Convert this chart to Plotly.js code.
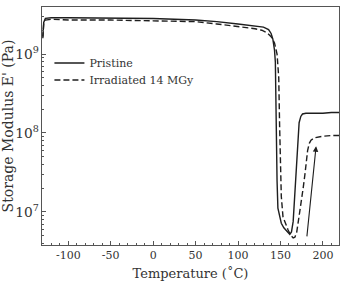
<!DOCTYPE html>
<html>
<head>
<meta charset="utf-8">
<script src="https://cdn.plot.ly/plotly-3.0.1.min.js"></script>
<style>
  html, body { margin: 0; padding: 0; background: #fff; }
  #chart { width: 343px; height: 283px; }
</style>
</head>
<body>
<div id="chart"></div>
<script>
// DMA storage modulus vs temperature
const pristineTemp = [-130, -129, -127, -120, -100, -50, 0, 50, 75, 100, 120, 130, 136, 139, 141, 143, 144, 145, 146, 147, 149, 151, 154, 157, 159, 161, 163, 165, 167, 169, 171, 172, 174, 176, 180, 190, 200, 210, 219];
const pristineModulus = [1.66e9, 2.51e9, 2.82e9, 2.88e9, 2.88e9, 2.82e9, 2.82e9, 2.69e9, 2.57e9, 2.40e9, 2.29e9, 2.19e9, 2.04e9, 1.82e9, 1.55e9, 1.12e9, 7.9e8, 1.0e8, 2.5e7, 1.12e7, 8.9e6, 7.2e6, 6.3e6, 5.9e6, 5.5e6, 5.2e6, 5.6e6, 7.6e6, 1.9e7, 5.0e7, 1.0e8, 1.35e8, 1.62e8, 1.74e8, 1.78e8, 1.78e8, 1.78e8, 1.82e8, 1.82e8];

const irradTemp = [-130, -129, -127, -120, -100, -50, 0, 50, 75, 100, 120, 128, 134, 139, 143, 146, 148, 149, 150, 151, 153, 156, 159, 162, 165, 167, 169, 172, 175, 177, 179, 182, 184, 186, 190, 195, 200, 210, 219];
const irradModulus = [1.58e9, 2.40e9, 2.69e9, 2.75e9, 2.69e9, 2.69e9, 2.63e9, 2.57e9, 2.40e9, 2.24e9, 2.09e9, 2.0e9, 1.86e9, 1.66e9, 1.38e9, 1.0e9, 5.0e8, 1.26e8, 4.0e7, 1.58e7, 8.7e6, 7.1e6, 5.9e6, 5.1e6, 4.7e6, 4.8e6, 5.4e6, 8.9e6, 1.41e7, 2.09e7, 3.09e7, 6.0e7, 7.4e7, 8.1e7, 8.7e7, 8.9e7, 9.1e7, 9.3e7, 9.3e7];

// arrow marking the recovery of the irradiated sample
const arrowTemp = [181, 192];
const arrowModulus = [4.7e6, 6.8e7];

const seriesNames = ['Pristine', 'Irradiated 14 MGy'];
const xTickVals = [-100, -50, 0, 50, 100, 150, 200];

const FONT = 'DejaVu Serif, Liberation Serif, serif';
const INK = '#1e1e1e';
const TEXT = '#333';
const FRAME = '#555';

const traces = [
  {
    x: pristineTemp, y: pristineModulus, name: seriesNames[0],
    type: 'scatter', mode: 'lines', legend: 'legend',
    line: { color: INK, width: 1.4, dash: 'solid' }
  },
  {
    x: irradTemp, y: irradModulus, name: seriesNames[1],
    type: 'scatter', mode: 'lines', legend: 'legend2',
    line: { color: INK, width: 1.4, dash: '6px,3px' }
  }
];

const legendStyle = (y) => ({
  x: 0.025, y: y, xanchor: 'left', yanchor: 'middle',
  bgcolor: 'rgba(0,0,0,0)', borderwidth: 0,
  font: { family: FONT, size: 11, color: TEXT },
  itemwidth: 30
});

const layout = {
  width: 343, height: 283,
  margin: { l: 42, r: 4, t: 7, b: 38 },
  paper_bgcolor: '#fff', plot_bgcolor: '#fff',
  font: { family: FONT, color: TEXT, size: 11 },
  showlegend: true,
  legend: legendStyle(0.765),
  legend2: legendStyle(0.693),
  xaxis: {
    range: [-131, 219],
    tickvals: xTickVals, ticktext: xTickVals.map(String),
    ticks: 'inside', ticklen: 4, tickwidth: 1, tickcolor: FRAME,
    minor: { dtick: 10, ticks: 'inside', ticklen: 2, tickcolor: FRAME, showgrid: false },
    showline: true, linecolor: FRAME, linewidth: 1, mirror: true,
    showgrid: false, zeroline: false,
    tickfont: { family: FONT, size: 11, color: TEXT },
    title: { text: 'Temperature (˚C)', font: { family: FONT, size: 13, color: TEXT }, standoff: 7 }
  },
  yaxis: {
    type: 'log',
    range: [6.582, 9.595],
    dtick: 1, exponentformat: 'power',
    ticks: 'inside', ticklen: 4, tickwidth: 1, tickcolor: FRAME,
    minor: { dtick: 'D1', ticks: 'inside', ticklen: 2, tickcolor: FRAME, showgrid: false },
    showline: true, linecolor: FRAME, linewidth: 1, mirror: true,
    showgrid: false, zeroline: false,
    tickfont: { family: FONT, size: 11, color: TEXT },
    title: { text: "Storage Modulus E' (Pa)", font: { family: FONT, size: 14, color: TEXT }, standoff: 1 }
  },
  annotations: [
    {
      xref: 'x', yref: 'y', axref: 'x', ayref: 'y',
      x: arrowTemp[1], y: Math.log10(arrowModulus[1]),
      ax: arrowTemp[0], ay: Math.log10(arrowModulus[0]),
      showarrow: true, arrowhead: 2, arrowsize: 1, arrowwidth: 1.1,
      arrowcolor: INK, text: ''
    }
  ]
};

Plotly.newPlot('chart', traces, layout, { displayModeBar: false, staticPlot: true });
</script>
</body>
</html>
